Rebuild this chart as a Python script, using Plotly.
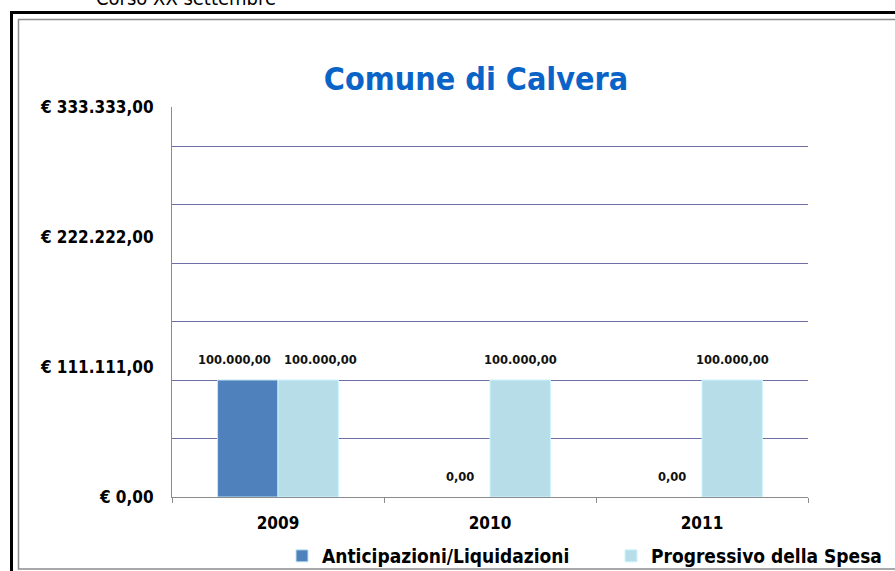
import plotly.graph_objects as go

# ---- data ----
years = ["2009", "2010", "2011"]
anticipazioni = [100000, 0, 0]
progressivo = [100000, 100000, 100000]
series_names = ["Anticipazioni/Liquidazioni", "Progressivo della Spesa"]
y_tick_values = [0, 111111, 222222, 333333]
y_tick_labels = ["€ 0,00", "€ 111.111,00", "€ 222.222,00", "€ 333.333,00"]
chart_title = "Comune di Calvera"
page_header = "Corso XX settembre"


def it_num(v):
    s = f"{v:,.2f}"
    return s.replace(",", "X").replace(".", ",").replace("X", ".")


W, H = 895, 571
L, R, T, B = 172, 808, 107, 497


def px_x(px):
    return (px - L) / (R - L)


def px_y(py):
    return (B - py) / (B - T)


FONT = "DejaVu Sans Condensed, DejaVu Sans, Verdana, sans-serif"
LABEL_FONT = "DejaVu Sans, Arial, sans-serif"
colors = ["#4F81BD", "#B7DEE8"]
edge_colors = ["#BFE6F2", "#CCF5FF"]
all_series = [anticipazioni, progressivo]
legend_ids = ["legend", "legend2"]

fig = go.Figure()
for name, vals, col, edge, lg in zip(series_names, all_series, colors, edge_colors, legend_ids):
    fig.add_trace(go.Bar(
        x=years, y=vals, name=name, legend=lg,
        marker=dict(color=col, line=dict(color=edge, width=[1 if v > 0 else 0 for v in vals])),
        hoverinfo="x+y",
    ))

# value labels placed with the axes' scales (x = category, y = value)
slot_px = 30  # half of a bar slot in pixels
for si, vals in enumerate(all_series):
    base = -slot_px if si == 0 else slot_px
    for ci, (yr, v) in enumerate(zip(years, vals)):
        other = all_series[1 - si][ci]
        push = 0
        if v == other:  # same-height labels in a group: move them apart
            push = -14 if si == 0 else 12
        fig.add_annotation(
            x=ci, y=v, xref="x", yref="y", text=it_num(v), showarrow=False,
            xanchor="center", yanchor="bottom", xshift=base + push, yshift=11,
            font=dict(family=LABEL_FONT, size=11.5, color="#111111", weight="bold"),
        )

grid_vals = list(range(50000, 333333, 50000))
legend_font = dict(family=FONT, size=19, color="black", weight="bold")

fig.update_layout(
    width=W, height=H,
    margin=dict(l=L, r=W - R, t=T, b=H - B, autoexpand=False),
    paper_bgcolor="white", plot_bgcolor="white",
    barmode="group", bargap=0.43, bargroupgap=0,
    title=dict(text=f"<b>{chart_title}</b>", x=px_x(476), xref="paper", xanchor="center",
               y=1 - 79 / H, yref="container", yanchor="middle",
               font=dict(family=FONT, size=32, color="#0A64C8")),
    xaxis=dict(
        type="category", categoryorder="array", categoryarray=years,
        range=[-0.5, len(years) - 0.5], autorange=False,
        showline=True, linecolor="#8C8C8C", linewidth=1,
        ticks="outside", tickson="boundaries", ticklen=5, tickcolor="#8C8C8C",
        ticklabelstandoff=11, tickangle=0,
        tickfont=dict(family=FONT, size=17, color="black", weight="bold"),
        showgrid=False,
    ),
    yaxis=dict(
        range=[0, 333333], autorange=False,
        tickmode="array", tickvals=y_tick_values, ticktext=y_tick_labels,
        showgrid=False, zeroline=False,
        showline=True, linecolor="#8C8C8C", linewidth=1,
        ticks="", ticklabelstandoff=14,
        tickfont=dict(family=FONT, size=17, color="black", weight="bold"),
        minor=dict(tickmode="array", tickvals=grid_vals, showgrid=True,
                   gridcolor="#6E6EA4", gridwidth=1, ticks=""),
    ),
    legend=dict(orientation="h", x=px_x(282), xanchor="left",
                y=px_y(556), yanchor="middle", font=legend_font,
                itemwidth=30, bgcolor="rgba(0,0,0,0)"),
    legend2=dict(orientation="h", x=px_x(611), xanchor="left",
                 y=px_y(556), yanchor="middle", font=legend_font,
                 itemwidth=30, bgcolor="rgba(0,0,0,0)"),
    showlegend=True,
)

# outer frames
fig.add_shape(type="rect", xref="paper", yref="paper",
              x0=px_x(11.5), x1=px_x(W + 20), y0=px_y(H + 20), y1=px_y(12.5),
              line=dict(color="black", width=3), fillcolor="rgba(0,0,0,0)", layer="below")
fig.add_shape(type="rect", xref="paper", yref="paper",
              x0=px_x(18.5), x1=px_x(W + 20), y0=px_y(569), y1=px_y(19.5),
              line=dict(color="#8C8C8C", width=1.5), fillcolor="rgba(0,0,0,0)", layer="below")

fig.add_annotation(text=page_header, xref="paper", yref="paper",
                   x=px_x(94), y=px_y(12), xanchor="left", yanchor="bottom",
                   showarrow=False, font=dict(family=FONT, size=20, color="black"))

fig.write_html("out.html", post_script="document.body.style.margin='0';",
               config={"displayModeBar": False})
